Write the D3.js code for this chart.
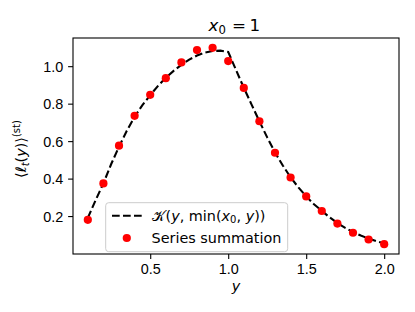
<!doctype html>
<html lang="en">
<head>
<meta charset="utf-8">
<title>x0 = 1</title>
<script src="https://cdnjs.cloudflare.com/ajax/libs/d3/7.8.5/d3.min.js"></script>
<style>
  body { margin: 0; background: #fff; }
  svg { display: block; font-family: "DejaVu Sans", sans-serif; }
  .tick text { font-size: 14.4px; fill: #000; }
  .tick line { stroke: #000; stroke-width: 1.1px; }
</style>
</head>
<body>
<script>
// series summation (points)
var ptX = [0.1, 0.2, 0.3, 0.4, 0.5, 0.6, 0.7, 0.8, 0.9, 1.0,
           1.1, 1.2, 1.3, 1.4, 1.5, 1.6, 1.7, 1.8, 1.9, 2.0];
var ptY = [0.180, 0.374, 0.576, 0.735, 0.847, 0.936, 1.020, 1.086, 1.098, 1.027,
           0.884, 0.706, 0.538, 0.406, 0.305, 0.227, 0.160, 0.111, 0.075, 0.050];

// K(y, min(x0, y)) curve
var lineX = [0.10, 0.15, 0.20, 0.25, 0.30, 0.35, 0.40, 0.45, 0.50, 0.55,
             0.60, 0.65, 0.70, 0.75, 0.80, 0.85, 0.90, 0.95, 1.00, 1.05,
             1.10, 1.15, 1.20, 1.25, 1.30, 1.35, 1.40, 1.45, 1.50, 1.55,
             1.60, 1.65, 1.70, 1.75, 1.80, 1.85, 1.90, 1.95, 2.00];
var lineY = [0.190, 0.285, 0.375, 0.478, 0.570, 0.655, 0.730, 0.792, 0.845, 0.895,
             0.938, 0.975, 1.007, 1.035, 1.057, 1.072, 1.081, 1.083, 1.076, 0.980,
             0.885, 0.795, 0.706, 0.620, 0.540, 0.470, 0.407, 0.353, 0.305, 0.263,
             0.228, 0.193, 0.163, 0.137, 0.115, 0.096, 0.080, 0.066, 0.055];

var xTicks = [0.5, 1.0, 1.5, 2.0];
var yTicks = [0.2, 0.4, 0.6, 0.8, 1.0];

var width = 415, height = 312;
var mLeft = 73, mRight = 399, mTop = 38, mBottom = 254;
var fs = 14.4, fsSmall = 10, fsTitle = 16.7;

var svg = d3.select("body").append("svg")
    .attr("width", width)
    .attr("height", height);

// 5% margins like matplotlib autoscale
var xExt = [0.1, 2.0], xPad = (xExt[1] - xExt[0]) * 0.05;
var yAll = ptY.concat(lineY);
var yExt = d3.extent(yAll), yPad = (yExt[1] - yExt[0]) * 0.05;

var x = d3.scaleLinear().domain([xExt[0] - xPad, xExt[1] + xPad]).range([mLeft, mRight]);
var y = d3.scaleLinear().domain([yExt[0] - yPad, yExt[1] + yPad]).range([mBottom, mTop]);

// axes
var xAxis = svg.append("g")
    .attr("transform", "translate(0," + mBottom + ")")
    .call(d3.axisBottom(x).tickValues(xTicks).tickFormat(d3.format(".1f"))
      .tickSize(4.9).tickPadding(4.9));
var yAxis = svg.append("g")
    .attr("transform", "translate(" + mLeft + ",0)")
    .call(d3.axisLeft(y).tickValues(yTicks).tickFormat(d3.format(".1f"))
      .tickSize(4.9).tickPadding(4.9));
xAxis.select(".domain").remove();
yAxis.select(".domain").remove();
xAxis.selectAll("text").attr("dy", "0.7em");
yAxis.selectAll("text").attr("dy", "0.36em");

// curve
var pts = lineX.map(function(d, i) { return [d, lineY[i]]; });
var line = d3.line().x(function(d) { return x(d[0]); }).y(function(d) { return y(d[1]); });

svg.append("path")
    .datum(pts)
    .attr("d", line)
    .attr("fill", "none")
    .attr("stroke", "#000")
    .attr("stroke-width", 2.1)
    .attr("stroke-dasharray", "7.7,3.3");

// points
svg.append("g").selectAll("circle")
    .data(ptX)
    .enter().append("circle")
    .attr("cx", function(d) { return x(d); })
    .attr("cy", function(d, i) { return y(ptY[i]); })
    .attr("r", 4.1)
    .attr("fill", "#ff0000");

// frame
svg.append("rect")
    .attr("x", mLeft).attr("y", mTop)
    .attr("width", mRight - mLeft).attr("height", mBottom - mTop)
    .attr("fill", "none").attr("stroke", "#000").attr("stroke-width", 1.1);

// legend
var lg = svg.append("g");
lg.append("rect")
    .attr("x", 105.7).attr("y", 202.7).attr("width", 182).attr("height", 49)
    .attr("rx", 3).attr("fill", "#fff").attr("fill-opacity", 0.8)
    .attr("stroke", "#cccccc").attr("stroke-width", 1);
lg.append("line")
    .attr("x1", 112).attr("x2", 141.7).attr("y1", 215.7).attr("y2", 215.7)
    .attr("stroke", "#000").attr("stroke-width", 2.1).attr("stroke-dasharray", "7.7,3.3");
lg.append("circle").attr("cx", 126.8).attr("cy", 238).attr("r", 4.1).attr("fill", "#ff0000");

var t1 = lg.append("text").attr("x", 151.5).attr("y", 220.5).attr("font-size", fs);
t1.append("tspan").text("\u{1D4A6}");
t1.append("tspan").attr("dx", 1).text("(");
t1.append("tspan").attr("font-style", "italic").text("y");
t1.append("tspan").text(", min(");
t1.append("tspan").attr("font-style", "italic").text("x");
t1.append("tspan").attr("font-size", fsSmall).attr("dy", 2.6).text("0");
t1.append("tspan").attr("dy", -2.6).text(", ");
t1.append("tspan").attr("font-style", "italic").text("y");
t1.append("tspan").text("))");

lg.append("text").attr("x", 151.5).attr("y", 242.5).attr("font-size", fs).text("Series summation");

// title
var tx = 208.5;
var tt = svg.append("text").attr("x", tx).attr("y", 30.7).attr("font-size", fsTitle);
tt.append("tspan").attr("font-style", "italic").text("x");
tt.append("tspan").attr("font-size", 11.7).attr("dy", 2.8).text("0");
tt.append("tspan").attr("x", tx + 23.5).attr("dy", -2.8).text("=");
tt.append("tspan").attr("x", tx + 41).text("1");

// x label
svg.append("text").attr("x", (mLeft + mRight) / 2).attr("y", 290.5)
    .attr("text-anchor", "middle").attr("font-size", fs)
    .attr("font-style", "italic").text("y");

// y label
var yl = svg.append("text")
    .attr("transform", "translate(26," + ((mTop + mBottom) / 2 + 3) + ") rotate(-90)")
    .attr("text-anchor", "middle").attr("font-size", fs);
yl.append("tspan").text("\u27E8");
yl.append("tspan").attr("font-style", "italic").text("\u2113");
yl.append("tspan").attr("font-style", "italic").attr("font-size", fsSmall).attr("dy", 2.6).text("t");
yl.append("tspan").attr("dy", -2.6).text("(");
yl.append("tspan").attr("font-style", "italic").text("y");
yl.append("tspan").text(")\u27E9");
yl.append("tspan").attr("font-size", fsSmall).attr("dy", -6).text("(st)");
</script>
</body>
</html>
